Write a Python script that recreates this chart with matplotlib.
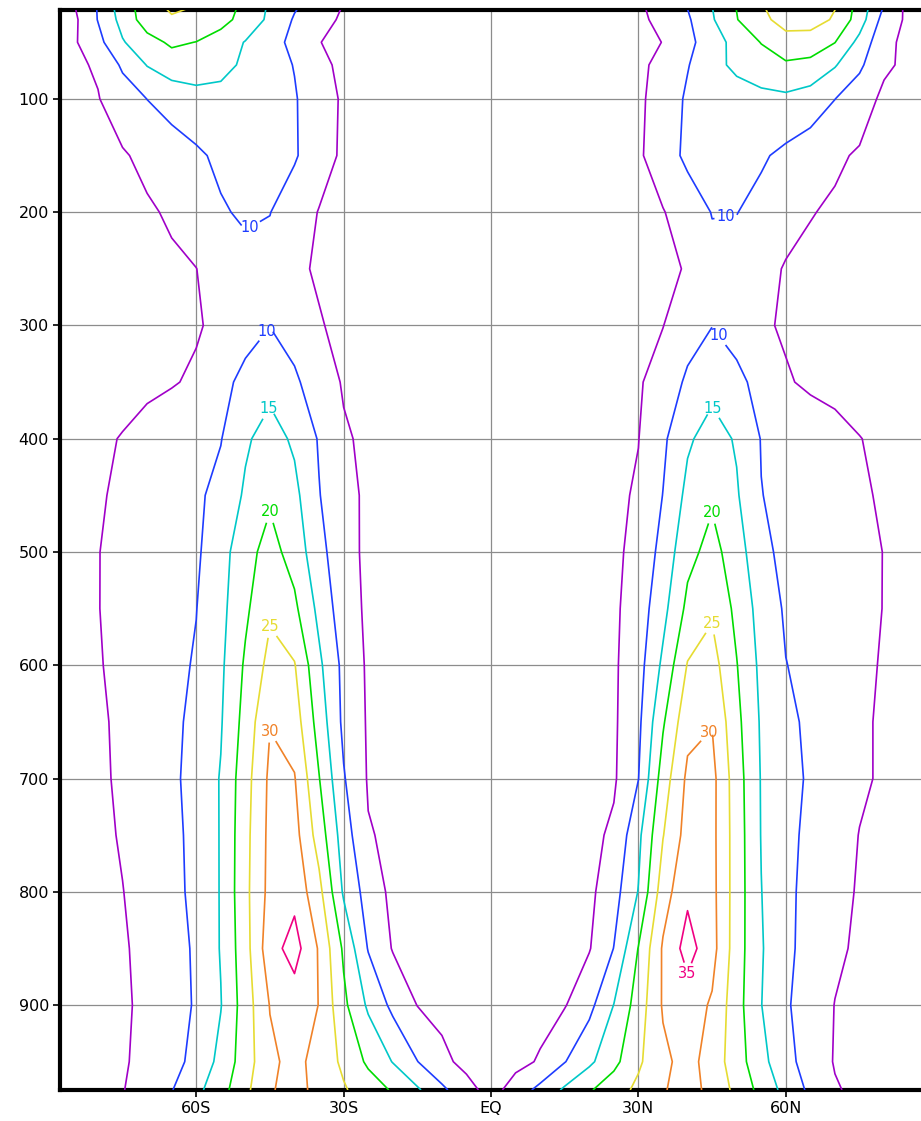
import matplotlib
matplotlib.use('Agg')
import matplotlib.pyplot as plt
import numpy as np

# zonal-mean field on a 5-degree latitude grid, one row per pressure level
lats = np.arange(-90, 91, 5)
pressure = [975, 950, 900, 850, 800, 750, 700, 650, 600, 550, 500, 450,
            400, 350, 300, 250, 200, 150, 100, 70, 50, 30, 20]

p975 = [2.0, 3.0, 4.0, 4.8, 7.1, 9.8, 13.7, 18.1, 23.8, 29.6, 31.5, 28.7, 25.5, 22.6, 19.5, 15.7, 11.0, 6.9, 3.0,
        7.3, 11.4, 15.8, 19.5, 22.8, 26.1, 29.6, 32.0, 28.5, 23.7, 18.4, 13.4, 9.0, 5.4, 4.0, 3.5, 3.0, 2.5]
p950 = [2.5, 3.3, 4.0, 4.7, 5.8, 8.3, 11.5, 16.4, 22.6, 29.0, 31.5, 28.2, 24.0, 19.1, 14.8, 10.1, 6.3, 3.5, 2.5,
        3.5, 5.5, 9.8, 14.0, 18.6, 24.2, 28.9, 31.8, 27.8, 22.3, 16.5, 11.6, 7.8, 4.7, 4.0, 3.5, 3.0, 2.5]
p900 = [2.5, 3.3, 4.0, 4.6, 5.6, 7.9, 10.5, 14.8, 22.5, 30.2, 32.5, 29.9, 21.1, 14.2, 8.8, 4.9, 3.5, 2.5, 2.0,
        2.5, 3.3, 4.7, 8.6, 15.1, 22.3, 30.5, 32.5, 29.4, 21.9, 15.1, 10.6, 7.6, 4.9, 4.0, 3.5, 3.0, 2.5]
p850 = [2.5, 3.2, 3.8, 4.5, 6.3, 8.3, 10.6, 15.3, 23.1, 33.0, 37.0, 29.5, 19.2, 9.7, 4.7, 3.5, 3.0, 2.5, 2.0,
        2.3, 2.7, 3.5, 4.7, 10.1, 20.2, 30.6, 37.0, 31.8, 22.3, 15.4, 11.1, 8.2, 5.8, 4.3, 3.7, 3.2, 2.8]
p800 = [2.5, 3.1, 3.7, 4.9, 6.8, 8.7, 11.1, 15.3, 23.7, 31.5, 33.5, 26.5, 14.3, 7.9, 3.8, 3.5, 3.0, 2.5, 2.0,
        2.3, 2.6, 3.2, 3.9, 8.1, 15.2, 27.7, 34.0, 31.5, 22.5, 15.1, 11.1, 8.5, 6.4, 4.6, 4.0, 3.4, 3.0]
p750 = [2.5, 3.0, 3.9, 5.4, 7.1, 8.8, 11.3, 15.3, 23.5, 31.3, 31.8, 22.8, 12.5, 5.3, 4.2, 3.5, 3.0, 2.5, 2.0,
        2.3, 2.6, 3.0, 3.8, 5.8, 13.8, 24.8, 32.0, 31.4, 22.5, 14.8, 11.4, 8.8, 6.8, 4.9, 4.2, 3.6, 3.0]
p700 = [2.5, 3.2, 4.1, 5.8, 7.4, 9.1, 11.6, 15.3, 23.0, 31.0, 30.3, 20.2, 10.4, 4.6, 3.9, 3.4, 3.0, 2.5, 2.0,
        2.3, 2.6, 3.0, 3.5, 4.4, 9.9, 22.4, 31.0, 31.5, 22.2, 14.7, 11.8, 9.3, 7.6, 5.6, 4.5, 3.8, 3.2]
p650 = [2.5, 3.2, 4.2, 6.0, 7.5, 9.0, 11.1, 14.6, 21.8, 29.8, 27.5, 17.9, 8.9, 4.5, 3.8, 3.3, 3.0, 2.5, 2.0,
        2.3, 2.6, 3.0, 3.5, 4.3, 8.9, 19.4, 28.5, 29.8, 21.3, 14.4, 11.1, 9.1, 7.3, 5.6, 4.5, 3.8, 3.2]
p600 = [2.5, 3.3, 4.7, 6.1, 7.5, 8.8, 10.4, 14.1, 20.7, 26.5, 25.3, 16.0, 8.7, 4.3, 3.7, 3.3, 3.0, 2.5, 2.0,
        2.3, 2.6, 3.0, 3.5, 4.3, 8.1, 16.0, 25.3, 27.0, 20.2, 13.8, 10.1, 8.8, 7.3, 5.8, 4.7, 3.9, 3.3]
p550 = [2.5, 3.5, 4.9, 6.2, 7.4, 8.7, 9.9, 13.6, 19.1, 24.3, 21.0, 13.7, 7.2, 4.2, 3.6, 3.2, 2.8, 2.4, 2.0,
        2.3, 2.6, 3.0, 3.5, 4.2, 7.3, 13.5, 21.2, 24.3, 18.8, 13.0, 9.4, 8.5, 7.3, 6.1, 4.9, 4.0, 3.4]
p500 = [2.5, 3.5, 4.9, 6.1, 7.3, 8.5, 9.3, 12.9, 18.4, 21.7, 18.1, 11.5, 6.8, 4.0, 3.6, 3.2, 2.8, 2.4, 2.0,
        2.3, 2.6, 3.0, 3.5, 4.2, 6.2, 11.7, 18.6, 21.6, 17.5, 11.0, 9.0, 8.3, 7.4, 6.3, 4.9, 4.0, 3.4]
p450 = [2.5, 3.7, 4.6, 5.7, 6.9, 8.1, 9.2, 11.4, 15.7, 19.3, 16.3, 10.2, 6.4, 4.2, 3.6, 3.2, 2.8, 2.4, 2.0,
        2.3, 2.6, 3.0, 3.4, 4.1, 5.5, 10.1, 16.3, 19.3, 15.5, 10.1, 8.9, 7.8, 6.7, 5.6, 4.5, 3.8, 3.3]
p400 = [2.5, 3.5, 4.3, 5.2, 6.3, 7.5, 8.7, 9.8, 14.3, 17.0, 14.2, 9.6, 5.5, 4.2, 3.6, 3.2, 2.8, 2.4, 2.0,
        2.3, 2.6, 3.0, 3.4, 4.0, 4.9, 9.1, 14.3, 17.0, 14.5, 9.8, 8.6, 7.4, 6.2, 5.1, 4.2, 3.6, 3.2]
p350 = [2.0, 2.5, 3.0, 3.6, 4.2, 4.7, 5.6, 8.6, 11.3, 13.5, 10.8, 7.4, 4.6, 3.8, 3.4, 3.1, 2.8, 2.4, 2.0,
        2.3, 2.6, 2.9, 3.3, 3.8, 4.5, 7.1, 10.8, 13.5, 11.3, 8.3, 5.4, 4.3, 3.9, 3.4, 3.0, 2.7, 2.5]
p300 = [2.0, 2.4, 2.8, 3.2, 3.7, 4.2, 4.6, 6.0, 8.2, 9.9, 8.0, 5.3, 4.0, 3.4, 3.1, 2.9, 2.7, 2.4, 2.0,
        2.3, 2.6, 2.9, 3.2, 3.6, 4.1, 4.9, 8.0, 9.9, 8.0, 5.6, 4.5, 4.0, 3.6, 3.3, 3.0, 2.7, 2.5]
p250 = [2.2, 2.6, 3.0, 3.4, 3.9, 4.4, 4.95, 7.0, 8.5, 8.5, 5.8, 4.5, 3.5, 3.2, 3.0, 2.8, 2.6, 2.4, 2.2,
        2.4, 2.6, 2.8, 3.0, 3.3, 3.7, 4.4, 5.2, 8.5, 8.3, 6.8, 4.6, 4.0, 3.6, 3.3, 3.0, 2.7, 2.5]
p200 = [2.5, 3.0, 3.6, 4.1, 4.5, 5.5, 7.3, 9.5, 10.7, 10.1, 7.5, 4.8, 3.6, 3.2, 3.0, 2.8, 2.6, 2.4, 2.2,
        2.4, 2.6, 2.8, 3.0, 3.3, 3.8, 4.8, 7.0, 10.2, 10.1, 8.6, 7.0, 5.2, 4.4, 3.8, 3.3, 2.9, 2.6]
p150 = [2.8, 3.3, 3.9, 4.6, 6.0, 7.6, 9.2, 11.0, 12.2, 12.2, 10.5, 7.1, 4.2, 3.6, 3.2, 2.9, 2.7, 2.5, 2.3,
        2.5, 2.7, 2.9, 3.2, 3.6, 4.4, 7.3, 11.2, 12.8, 12.5, 10.6, 8.9, 7.3, 5.7, 4.5, 3.8, 3.2, 2.8]
p100 = [3.2, 3.9, 4.8, 7.4, 10.05, 12.0, 13.4, 13.5, 12.6, 11.8, 10.4, 7.1, 4.4, 3.7, 3.3, 3.0, 2.8, 2.6, 2.4,
        2.6, 2.8, 3.0, 3.3, 3.7, 4.3, 6.7, 10.8, 12.0, 13.0, 13.8, 14.0, 12.8, 10.05, 7.3, 4.0, 3.6, 3.0]
p70 = [3.5, 4.2, 5.5, 10.8, 15.2, 17.5, 17.4, 16.4, 14.2, 12.1, 9.8, 5.9, 4.2, 3.6, 3.2, 3.0, 2.8, 2.6, 2.4,
       2.6, 2.8, 3.0, 3.3, 3.7, 4.4, 5.8, 9.7, 13.6, 16.0, 17.5, 19.2, 18.5, 15.4, 10.9, 5.8, 4.0, 3.4]
p50 = [3.6, 4.3, 8.5, 14.6, 18.2, 20.8, 19.9, 17.3, 14.8, 11.9, 8.7, 5.1, 4.0, 3.5, 3.2, 3.0, 2.8, 2.6, 2.4,
       2.6, 2.8, 3.0, 3.3, 3.7, 4.3, 5.05, 8.5, 13.0, 16.5, 20.2, 23.5, 23.0, 20.1, 13.5, 6.2, 3.8, 3.6]
p30 = [3.8, 3.8, 10.2, 16.7, 22.5, 24.3, 24.0, 22.0, 17.8, 14.1, 9.5, 6.6, 4.3, 3.6, 3.3, 3.0, 2.8, 2.6, 2.4,
       2.6, 2.8, 3.0, 3.3, 3.7, 4.4, 5.8, 9.3, 14.5, 19.8, 24.0, 26.5, 26.8, 24.5, 17.5, 8.0, 4.0, 3.6]
p20 = [3.8, 4.5, 10.3, 17.5, 22.5, 25.8, 24.6, 22.5, 18.6, 14.3, 10.4, 7.5, 4.7, 3.8, 3.4, 3.1, 2.9, 2.7, 2.5,
       2.7, 2.9, 3.1, 3.4, 3.8, 4.5, 6.2, 10.05, 14.9, 20.1, 24.5, 27.5, 28.0, 25.1, 18.0, 9.5, 3.6, 3.4]

field = np.array([p975, p950, p900, p850, p800, p750, p700, p650, p600, p550, p500, p450,
                  p400, p350, p300, p250, p200, p150, p100, p70, p50, p30, p20])

contour_levels = [5, 10, 15, 20, 25, 30, 35]
contour_colors = ['#a000c8', '#1e3cff', '#00c8c8', '#00dc00', '#e6dc32', '#f08228', '#f00082']

lat_ticks = [-60, -30, 0, 30, 60]
lat_labels = ['60S', '30S', 'EQ', '30N', '60N']
p_ticks = [100, 200, 300, 400, 500, 600, 700, 800, 900]

# where the contour values get written
label_spots = [(-48, 221), (-48, 298), (-46, 372), (-46, 460), (-44, 556), (-43.8, 652),
               (48, 210), (48, 304), (46, 371), (44, 455), (44, 552), (42.4, 652), (40, 872)]

fig = plt.figure(figsize=(9.21, 11.21), dpi=100)
ax = fig.add_axes([60 / 921, 31 / 1121, 870 / 921, 1080 / 1121])

cs = ax.contour(lats, pressure, field, levels=contour_levels, colors=contour_colors,
                linewidths=1.2, zorder=3)
texts = ax.clabel(cs, fmt='%d', fontsize=10.5, inline=True, inline_spacing=2, manual=label_spots)
for t in texts:
    t.set_rotation(0)

ax.set_xlim(-87.73, 89.35)
ax.set_ylim(975, 21.5)

ax.set_xticks(lat_ticks)
ax.set_xticklabels(lat_labels)
ax.set_yticks(p_ticks)
ax.grid(True, color='#8c8c8c', linewidth=0.9, zorder=1)
ax.set_axisbelow(True)

ax.tick_params(direction='out', length=5, width=1.2, labelsize=11.5, pad=3)
for side in ['left', 'bottom', 'top']:
    ax.spines[side].set_linewidth(3)
ax.spines['right'].set_visible(False)

fig.savefig('out.png', dpi=100)
